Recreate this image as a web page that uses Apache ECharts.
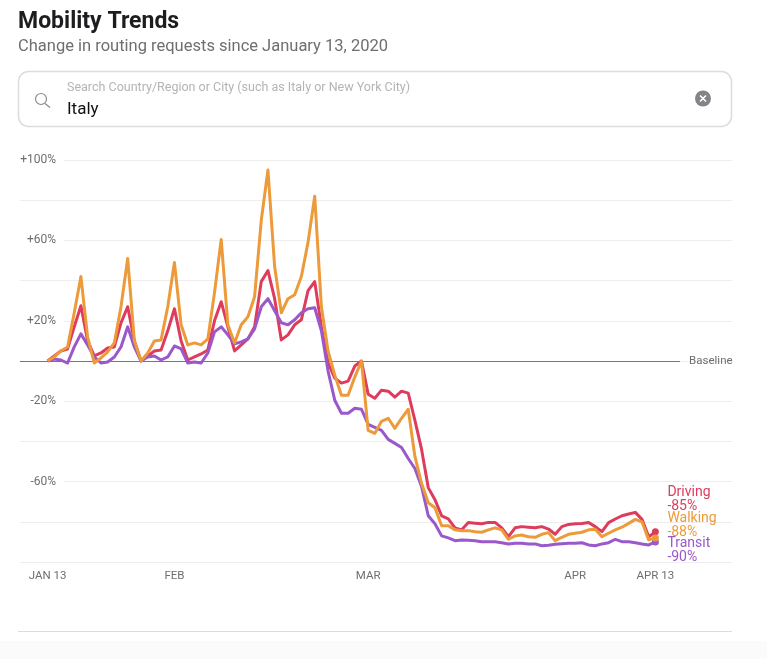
<!DOCTYPE html>
<html>
<head>
<meta charset="utf-8">
<title>Mobility Trends</title>
<script src="https://cdn.jsdelivr.net/npm/echarts@6/dist/echarts.min.js"></script>
<style>
  html, body { margin: 0; padding: 0; background: #fff; }
  #chart { width: 767px; height: 659px; }
</style>
</head>
<body>
<div id="chart"></div>
<script>
// Daily change in routing requests, in percent, one value per day from Jan 13 to Apr 13, 2020.
const driving = [0,2.5,5,6,17,27.5,10,2.5,4,6.5,
  7,19,27,10,0,2.5,5,5.5,15,26,
  10,0.5,2,3.5,5.5,20,29.5,17,5,8,
  11,17,39.5,45,31,10.5,13,18,20.5,35,
  39.5,17,-1,-8.5,-11,-10,-2.5,0,-16.5,-18.5,
  -14.5,-15,-18,-15,-16,-29.5,-44,-63,-69,-77,
  -78.5,-83,-84,-80.4,-80.7,-81,-80.3,-80.3,-83,-87.4,
  -83,-82.4,-82.7,-83,-82.4,-83.6,-86.2,-82.4,-81.3,-81,
  -80.8,-80.3,-82.4,-84.9,-80.4,-78.6,-77,-76.1,-75.3,-78.8,
  -87.4,-85];
const walking = [0,2,5,7,24,42,12,-1,1.5,4.5,
  9,27,51,10,0,4,10,10.5,27,49,
  18,8,9,8,11,34,60.5,18,9,18,
  22,32,70,95,47,24,31,33,42,59,
  82,27,5,-7,-17,-17,-8,0,-34.5,-36,
  -30,-28.5,-33.5,-28.5,-24,-47.5,-61,-70.5,-73,-82,
  -82,-84,-84.4,-84.4,-85,-85.2,-84,-83,-84,-88.7,
  -87,-86.6,-87.4,-87.7,-86.2,-85.4,-89.4,-87.7,-86.2,-85.7,
  -85.2,-84,-83.7,-87.4,-85.7,-84,-82.7,-80.8,-78.8,-80,
  -89,-88];
const transit = [0,1,0.5,-1,7,13.5,8,2,-1,-0.5,
  2,7,17,7,0,2,2.5,0.5,2,7.5,
  6,-1,-0.5,-1,4,14.5,17,13,8.5,9.5,
  11,16,27,31,25,19,18,20.5,24,26,
  26.5,15,-5,-19.5,-26,-26,-23.5,-24,-31.5,-33,
  -34.5,-39,-41,-43,-48.5,-53.5,-62.5,-77,-81,-87,
  -88,-89.4,-89,-89.2,-89.4,-89.9,-89.9,-89.9,-90.4,-91,
  -90.7,-90.7,-91,-91,-91.9,-91.7,-91.2,-90.9,-90.7,-90.7,
  -90.4,-91.5,-91.9,-91,-90.4,-88.7,-89.9,-89.9,-90.4,-91,
  -91.5,-90];

const tickDays = [0, 19, 48, 79, 91];
const tickLabels = ['JAN 13', 'FEB', 'MAR', 'APR', 'APR 13'];
const percentTicks = [100, 60, 20, -20, -60];

const FONT = 'Roboto, Inter, "Noto Sans", sans-serif';
const DRIVING = '#de3c5c', WALKING = '#ec9a3a', TRANSIT = '#9a58cb';
const chart = echarts.init(document.getElementById('chart'), null, { renderer: 'canvas' });

// The plot spans the full card width, so the day axis runs past both ends of the data.
const dayMin = -4.12, dayMax = 102.47, baselineEnd = 94.7;

function trend(name, values, color, labelDy, z) {
  const last = values.length - 1;
  return {
    name, type: 'line', z,
    data: values.map((v, i) => [i, v]),
    symbol: 'circle',
    showAllSymbol: true,
    symbolSize: (v, p) => (p.dataIndex === last ? 7 : 0),
    lineStyle: { color, width: 3, join: 'round' },
    itemStyle: { color },
    silent: true,
    endLabel: {
      show: true,
      formatter: name + '\n' + values[last] + '%',
      color, fontFamily: FONT, fontSize: 14, lineHeight: 14,
      align: 'left', offset: [4, labelDy]
    }
  };
}

chart.setOption({
  animation: false,
  backgroundColor: '#ffffff',
  grid: { left: 20, top: 160, width: 712, height: 402, containLabel: false },
  xAxis: {
    type: 'value', min: dayMin, max: dayMax,
    splitLine: { show: false }, axisLine: { show: false }, axisTick: { show: false },
    axisLabel: {
      customValues: tickDays,
      formatter: v => tickLabels[tickDays.indexOf(v)],
      color: '#6e6e73', fontFamily: FONT, fontSize: 11.5, margin: 8,
      showMinLabel: true, showMaxLabel: true
    }
  },
  yAxis: {
    type: 'value', min: -100, max: 100, interval: 20,
    axisLine: { show: false }, axisTick: { show: false },
    splitLine: { lineStyle: { color: '#eeeeee', width: 1 } },
    axisLabel: {
      inside: true, margin: 44, align: 'right',
      customValues: percentTicks,
      formatter: v => (v > 0 ? '+' : '') + v + '%',
      color: '#6e6e73', fontFamily: FONT, fontSize: 12,
      backgroundColor: '#ffffff', padding: [3, 8, 1, 10]
    }
  },
  series: [
    {
      // Zero reference line with its caption at the right end
      name: 'Baseline', type: 'line', data: [], z: 1, silent: true,
      markLine: {
        silent: true, symbol: 'none', animation: false,
        lineStyle: { color: '#77777b', width: 1, type: 'solid' },
        label: { show: true, position: 'end', distance: 9, formatter: 'Baseline',
                 color: '#6e6e73', fontFamily: FONT, fontSize: 11.5 },
        data: [[{ coord: [dayMin, 0] }, { coord: [baselineEnd, 0] }]]
      }
    },
    trend('Driving', driving, DRIVING, -32, 3),
    trend('Transit', transit, TRANSIT, 9, 4),
    trend('Walking', walking, WALKING, -12, 5)
  ],
  graphic: [
    { type: 'text', left: 18, top: 11, style: { text: 'Mobility Trends', fill: '#1d1d1f',
      font: 'bold 23px ' + FONT } },
    { type: 'text', left: 18, top: 38, style: { text: 'Change in routing requests since January 13, 2020',
      fill: '#6e6e73', font: '16.5px ' + FONT } },
    { type: 'rect', shape: { x: 18.5, y: 71.5, width: 713, height: 55, r: 10 },
      style: { fill: '#fff', stroke: '#dcdcdc', lineWidth: 1.5 } },
    { type: 'text', left: 67, top: 81, style: { text: 'Search Country/Region or City (such as Italy or New York City)',
      fill: '#b4b4b8', font: '12.5px ' + FONT } },
    { type: 'text', left: 67, top: 101, style: { text: 'Italy', fill: '#111', font: '17px ' + FONT } },
    { type: 'circle', shape: { cx: 41, cy: 99, r: 5.5 }, style: { fill: 'none', stroke: '#8a8a8e', lineWidth: 1.2 } },
    { type: 'line', shape: { x1: 45, y1: 103.5, x2: 50, y2: 107.5 }, style: { stroke: '#8a8a8e', lineWidth: 1.2 } },
    { type: 'circle', shape: { cx: 703, cy: 98.5, r: 8 }, style: { fill: '#848488' } },
    { type: 'line', shape: { x1: 700, y1: 95.5, x2: 706, y2: 101.5 }, style: { stroke: '#fff', lineWidth: 1.6 } },
    { type: 'line', shape: { x1: 706, y1: 95.5, x2: 700, y2: 101.5 }, style: { stroke: '#fff', lineWidth: 1.6 } },
    { type: 'line', shape: { x1: 18, y1: 631.5, x2: 732, y2: 631.5 }, style: { stroke: '#dcdcdc', lineWidth: 1 } },
    { type: 'rect', z: -1, shape: { x: 0, y: 641, width: 767, height: 18 }, style: { fill: '#fbfbfb' } }
  ]
});
</script>
</body>
</html>
